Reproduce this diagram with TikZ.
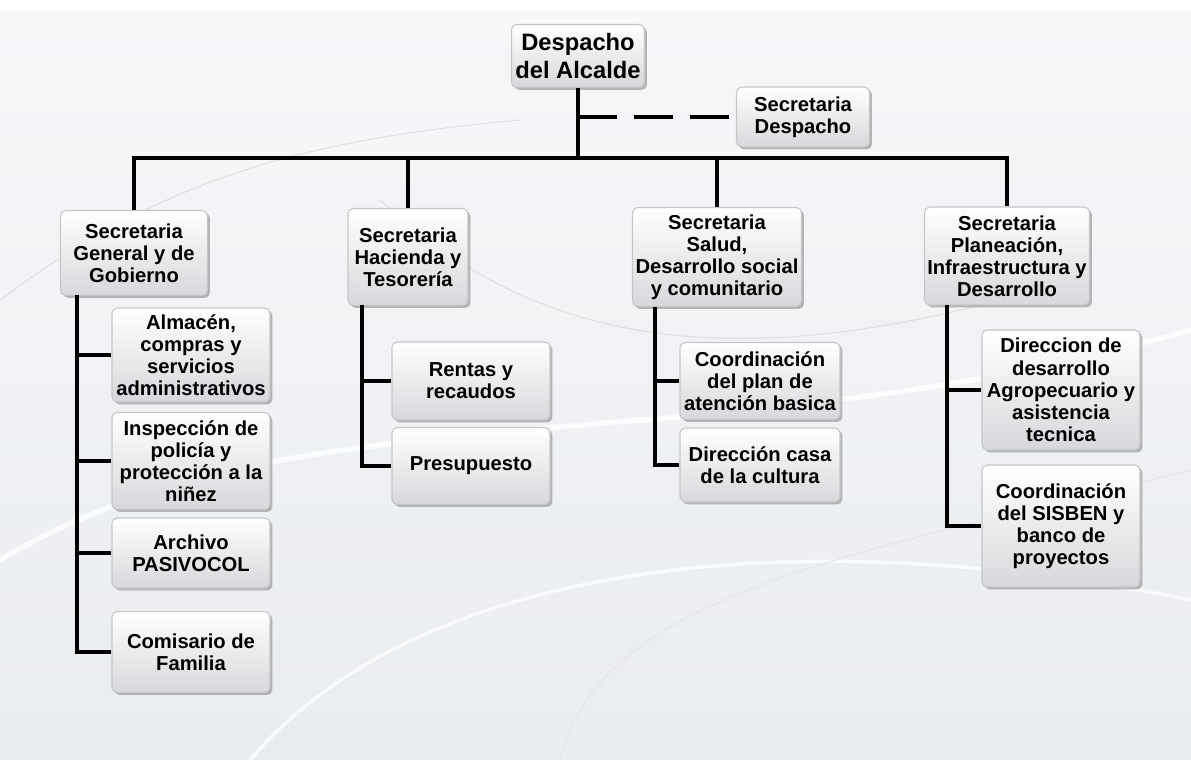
\documentclass[tikz,border=0pt]{standalone}
\usepackage{fontspec}
\setmainfont{Liberation Sans}
\usepackage{tikz}
\usetikzlibrary{shadows}
\usetikzlibrary{positioning}
\definecolor{bgtop}{RGB}{246,247,249}
\definecolor{bgbot}{RGB}{233,236,240}
\definecolor{boxbot}{RGB}{214,216,219}
\def\px{0.02cm}
\tikzstyle{box} = [rectangle, rounded corners=3pt, draw=gray!45, line width=0.6pt,
    top color=white, bottom color=boxbot, align=center, inner sep=1pt,
    font=\bfseries\fontsize{11.5}{12.6}\selectfont,
    drop shadow={shadow xshift=1.4pt, shadow yshift=-1.4pt, opacity=.55}]
\tikzstyle{line} = [draw=black, line width=2.3pt]

\begin{document}
\begin{tikzpicture}[x=\px,y=-\px]
\useasboundingbox (0,0) rectangle (1191,760);
% background
\fill[white] (0,0) rectangle (1191,760);
\shade[top color=bgtop, bottom color=bgbot] (0,12) rectangle (1191,760);
\draw[white, line width=3pt, opacity=.8] (0,560) .. controls (300,380) and (700,470) .. (1191,330);
\draw[white, line width=2pt, opacity=.7] (250,760) .. controls (420,560) and (800,520) .. (1191,600);
\draw[gray!25, line width=.6pt] (380,200) .. controls (520,330) and (700,380) .. (1000,300);
\draw[gray!25, line width=.6pt] (0,300) .. controls (160,180) and (300,140) .. (520,120);
\draw[gray!20, line width=.6pt] (560,760) .. controls (600,600) and (820,560) .. (1191,470);

% top level
\node[box, font=\bfseries\fontsize{13.5}{16}\selectfont,
      minimum width=133*\px, minimum height=63*\px] (alc) at (578,56) {Despacho\\del Alcalde};
\node[box, minimum width=133*\px, minimum height=60*\px] (sdes) at (803,117) {Secretaria\\Despacho};

% secretarias
\node[box, minimum width=147*\px, minimum height=85*\px] (gen) at (134,253) {Secretaria\\General y de\\Gobierno};
\node[box, minimum width=120*\px, minimum height=97*\px] (hac) at (408,257) {Secretaria\\Hacienda y\\Tesorería};
\node[box, minimum width=169*\px, minimum height=99*\px] (sal) at (717,257) {Secretaria\\Salud,\\Desarrollo social\\y comunitario};
\node[box, minimum width=165*\px, minimum height=98*\px] (pla) at (1007,256) {Secretaria\\Planeación,\\Infraestructura y\\Desarrollo};

% dependencias
\node[box, minimum width=158*\px, minimum height=94*\px] (alm) at (191,355) {Almacén,\\compras y\\servicios\\administrativos};
\node[box, minimum width=158*\px, minimum height=97*\px] (ins) at (191,461) {Inspección de\\policía y\\protección a la\\niñez};
\node[box, minimum width=158*\px, minimum height=70*\px] (arc) at (191,553) {Archivo\\PASIVOCOL};
\node[box, minimum width=158*\px, minimum height=81*\px] (com) at (191,652) {Comisario de\\Familia};

\node[box, minimum width=158*\px, minimum height=78*\px] (ren) at (471,381) {Rentas y\\recaudos};
\node[box, minimum width=158*\px, minimum height=77*\px] (pre) at (471,466) {Presupuesto};

\node[box, minimum width=160*\px, minimum height=77*\px] (coo) at (760,381) {Coordinación\\del plan de\\atención basica};
\node[box, minimum width=160*\px, minimum height=74*\px] (cas) at (760,465) {Dirección casa\\de la cultura};

\node[box, minimum width=158*\px, minimum height=120*\px] (dir) at (1061,390) {Direccion de\\desarrollo\\Agropecuario y\\asistencia\\tecnica};
\node[box, minimum width=158*\px, minimum height=122*\px] (sis) at (1061,526) {Coordinación\\del SISBEN y\\banco de\\proyectos};

% conectores
\coordinate (bus) at (578,158);
\draw[line] (alc.south) -- (bus);
\draw[line] (gen.north) |- (pla.north |- bus) -- (pla.north);
\draw[line] (hac.north) -- (hac.north |- bus);
\draw[line] (sal.north) -- (sal.north |- bus);
\draw[line, dash pattern=on 22pt off 10pt] (alc.south |- sdes.west) -- (sdes.west);

\coordinate (s1) at (77,295);
\coordinate (s2) at (362,305);
\coordinate (s3) at (655,307);
\coordinate (s4) at (947,305);
\foreach \c in {alm,ins,arc,com} \draw[line] (s1) |- (\c.west);
\foreach \c in {ren,pre} \draw[line] (s2) |- (\c.west);
\foreach \c in {coo,cas} \draw[line] (s3) |- (\c.west);
\foreach \c in {dir,sis} \draw[line] (s4) |- (\c.west);
\end{tikzpicture}
\end{document}
